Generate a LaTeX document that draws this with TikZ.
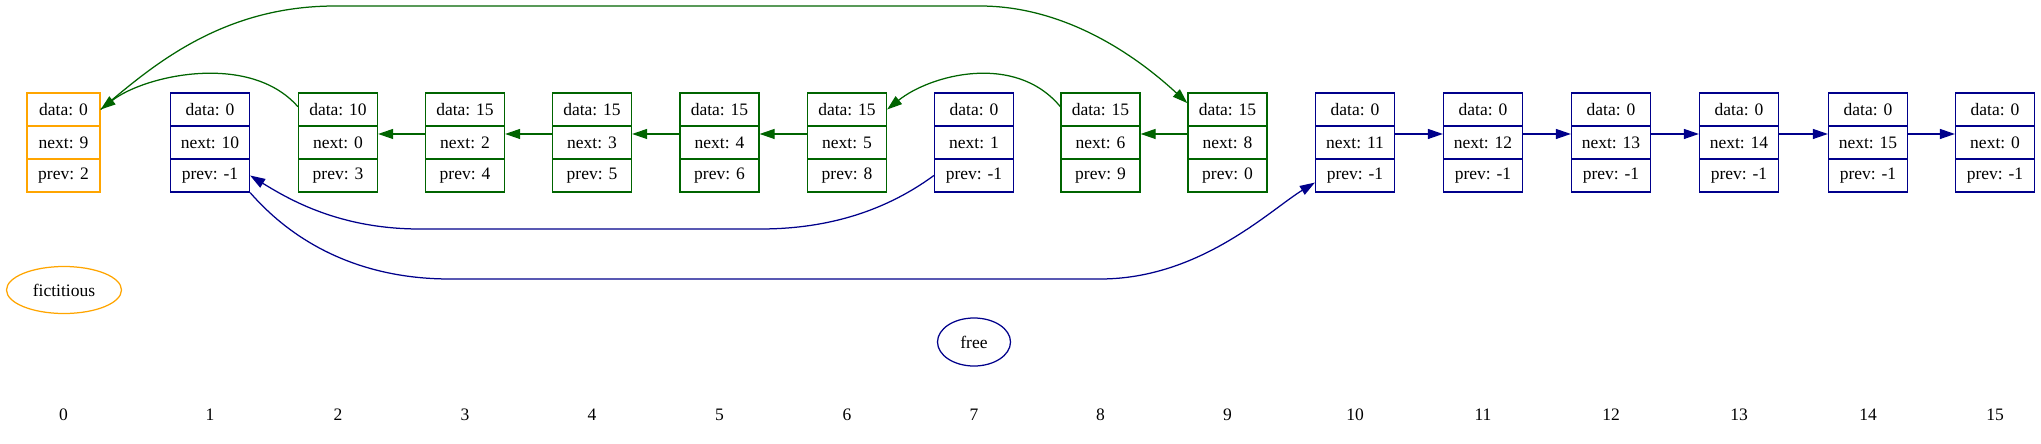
\documentclass[tikz,border=0pt]{standalone}
\usepackage{fontspec}
\setmainfont{Liberation Serif}
\usetikzlibrary{arrows.meta,shapes.geometric}
\definecolor{gvorange}{HTML}{FFA500}
\definecolor{gvblue}{HTML}{00008B}
\definecolor{gvgreen}{HTML}{006400}
\begin{document}
\begin{tikzpicture}[x=0.8pt,y=-0.8pt,
  font=\fontsize{14pt}{16pt}\selectfont,
  cell/.style={draw=#1, line width=1pt, minimum height=26.4pt, inner sep=0pt, anchor=center},
  lnk/.style={draw=#1, line width=1pt, -{Triangle[length=12pt,width=8pt]}},
  oval/.style={draw=#1, ellipse, line width=1pt, inner sep=0pt},
]
\useasboundingbox (0,0) rectangle (2041,443);
\foreach \i/\x/\w/\d/\n/\p/\c in {
  0/63.5/73/0/9/2/gvorange,
  1/210/79/0/10/-1/gvblue,
  2/338/79/10/0/3/gvgreen,
  3/465/79/15/2/4/gvgreen,
  4/592/79/15/3/5/gvgreen,
  5/719.5/79/15/4/6/gvgreen,
  6/847/79/15/5/8/gvgreen,
  7/974/79/0/1/-1/gvblue,
  8/1100.5/79/15/6/9/gvgreen,
  9/1227.5/79/15/8/0/gvgreen,
  10/1355/79/0/11/-1/gvblue,
  11/1483/79/0/12/-1/gvblue,
  12/1611/79/0/13/-1/gvblue,
  13/1739/79/0/14/-1/gvblue,
  14/1868/79/0/15/-1/gvblue,
  15/1995/79/0/0/-1/gvblue}{
  \node[cell=\c, minimum width=\w*0.8pt] (d\i) at (\x,109.5) {data: \d};
  \node[cell=\c, minimum width=\w*0.8pt] (n\i) at (\x,142.5) {next: \n};
  \node[cell=\c, minimum width=\w*0.8pt] (p\i) at (\x,175.5) {prev: \p};
  \node (lbl\i) at (\x,415) {\i};
}
\node[oval=gvorange, minimum width=92pt, minimum height=37.6pt] (fict) at (64,290) {fictitious};
\node[oval=gvblue, minimum width=58.4pt, minimum height=38.4pt] (free) at (974,342) {free};
% green list
\draw[lnk=gvgreen] (d0.east) .. controls (150,68) and (220,6) .. (335,6) -- (980,6) .. controls (1060,6) and (1130,50) .. (d9.171);
\draw[lnk=gvgreen] (d2.176) .. controls (250,52) and (145,75) .. (d0.east);
\draw[lnk=gvgreen] (d8.176) .. controls (1015,52) and (930,75) .. (d6.east);
\foreach \a/\b in {3/2,4/3,5/4,6/5,9/8}{
  \draw[lnk=gvgreen] (n\a.168) -- (n\b.12);
}
% blue list
\draw[lnk=gvblue] (p7.west) .. controls (880,215) and (820,229) .. (760,229) -- (420,229) .. controls (340,229) and (290,200) .. (p1.east);
\draw[lnk=gvblue] (p1.south east) .. controls (270,215) and (330,279) .. (450,279) -- (1100,279) .. controls (1200,279) and (1270,210) .. (p10.190);
\foreach \a/\b in {10/11,11/12,12/13,13/14,14/15}{
  \draw[lnk=gvblue] (n\a.12) -- (n\b.168);
}
\end{tikzpicture}
\end{document}
